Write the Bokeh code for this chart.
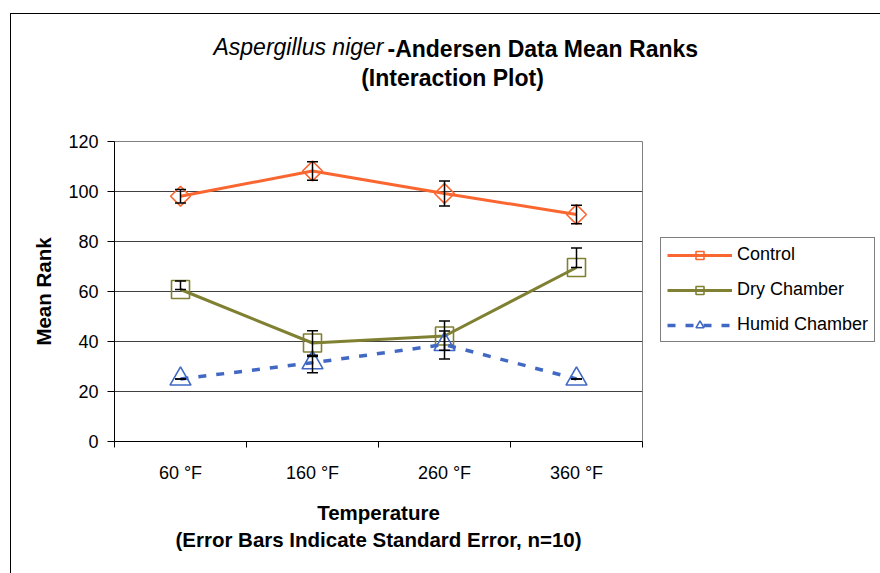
import math
from bokeh.plotting import figure
from bokeh.models import (ColumnDataSource, FixedTicker, Legend, LegendItem, Whisker,
                          TeeHead, Label, Range1d, InlineStyleSheet)
from bokeh.embed import file_html
from bokeh.resources import INLINE

# ---------------- data ----------------
categories = ["60 °F", "160 °F", "260 °F", "360 °F"]
y_ticks = [0, 20, 40, 60, 80, 100, 120]

control_mean = [98.1, 108.2, 99.2, 90.8]
control_err_plus = [2.7, 3.7, 5.0, 3.7]
control_err_minus = [2.7, 3.7, 5.0, 3.7]

dry_mean = [60.8, 39.4, 42.2, 69.6]
dry_err_plus = [3.4, 4.9, 6.0, 7.8]
dry_err_minus = [0.0, 4.9, 5.7, 0.0]

humid_mean = [25.0, 31.5, 38.8, 25.0]
humid_err_plus = [0.0, 2.5, 5.4, 0.0]
humid_err_minus = [0.0, 4.0, 5.8, 0.0]

series_names = ["Control", "Dry Chamber", "Humid Chamber"]

# ---------------- style ----------------
FONT = "Liberation Sans"
ORANGE = "#FA6630"
OLIVE = "#808033"
BLUE = "#4169C4"

xs = [i + 0.5 for i in range(len(categories))]

p = figure(frame_width=528, frame_height=300, output_backend="svg", toolbar_location=None,
           x_range=Range1d(0, len(categories)), y_range=Range1d(0, 120),
           min_border_left=114, min_border_right=238, min_border_top=141,
           min_border_bottom=132)
p.background_fill_color = "white"
p.border_fill_color = "white"
p.outline_line_color = "#808080"
p.outline_line_width = 1

# outer chart-area frame (left and top edges visible)
p.stylesheets = [InlineStyleSheet(css=""":host::after {
  content: ""; position: absolute; left: 10px; top: 13px; right: 0px; bottom: 0px;
  border-left: 1.5px solid black; border-top: 1.5px solid black; pointer-events: none;
}""")]

# axes
p.xaxis.ticker = FixedTicker(ticks=xs, minor_ticks=list(range(len(categories) + 1)))
p.xaxis.major_label_overrides = {x: c for x, c in zip(xs, categories)}
p.xaxis.major_tick_out = 0
p.xaxis.major_tick_in = 0
p.xaxis.minor_tick_out = 6
p.xaxis.minor_tick_in = 0
p.xaxis.major_label_standoff = 15
p.xaxis.axis_label = "Temperature\n(Error Bars Indicate Standard Error, n=10)"
p.xaxis.axis_label_standoff = 15
p.xaxis.axis_label_text_line_height = 1.2

p.yaxis.ticker = FixedTicker(ticks=y_ticks)
p.yaxis.major_tick_out = 7
p.yaxis.major_tick_in = 0
p.yaxis.minor_tick_out = 0
p.yaxis.minor_tick_in = 0
p.yaxis.major_label_standoff = 9
p.yaxis.axis_label = "Mean Rank"
p.yaxis.axis_label_standoff = 10

for ax in (p.xaxis[0], p.yaxis[0]):
    ax.axis_line_color = "black"
    ax.major_tick_line_color = "black"
    ax.minor_tick_line_color = "black"
    ax.major_label_text_font = FONT
    ax.major_label_text_font_size = "18px"
    ax.major_label_text_color = "black"
    ax.axis_label_text_font = FONT
    ax.axis_label_text_font_size = "20.5px"
    ax.axis_label_text_font_style = "bold"
    ax.axis_label_text_color = "black"

p.xgrid.visible = False
p.ygrid.ticker = FixedTicker(ticks=y_ticks)
p.ygrid.grid_line_color = "#404040"
p.ygrid.grid_line_width = 1

# series
specs = [
    (control_mean, control_err_plus, control_err_minus, ORANGE, None, 3, "square", 14, math.pi / 4),
    (dry_mean, dry_err_plus, dry_err_minus, OLIVE, None, 3, "square", 18, 0),
    (humid_mean, humid_err_plus, humid_err_minus, BLUE, "8 10", 3.5, "triangle", 21, 0),
]
items = []
for name, (mean, ep, em, color, dash, lw, marker, msize, ang) in zip(series_names, specs):
    src = ColumnDataSource(dict(x=xs, y=mean,
                                upper=[m + e for m, e in zip(mean, ep)],
                                lower=[m - e for m, e in zip(mean, em)]))
    kw = dict(line_dash=dash) if dash else {}
    rl = p.line("x", "y", source=src, line_color=color, line_width=lw, **kw)
    rs = p.scatter("x", "y", source=src, marker=marker, size=msize, angle=ang,
                   fill_color=None, line_color=color, line_width=1.6)
    w = Whisker(base="x", upper="upper", lower="lower", source=src,
                line_color="black", line_width=1.5, level="annotation",
                upper_head=TeeHead(size=11, line_color="black", line_width=1.5),
                lower_head=TeeHead(size=11, line_color="black", line_width=1.5))
    p.add_layout(w)
    items.append(LegendItem(label=name, renderers=[rl, rs]))

legend = Legend(items=items, location=(18, 99), margin=0, padding=6, spacing=14,
                glyph_width=65, glyph_height=20, label_height=20, label_standoff=5,
                label_text_font=FONT, label_text_font_size="18px",
                label_text_color="black",
                border_line_color="black", border_line_width=1,
                background_fill_color="white")
p.add_layout(legend, "right")

# titles, in the panel above the frame
t1a = Label(x=269, y=95, x_units="screen", y_units="screen", text="Aspergillus niger",
            text_font=FONT, text_font_size="23px", text_font_style="italic",
            text_align="right", text_baseline="middle", text_color="black")
t1b = Label(x=273, y=67, x_units="screen", y_units="screen",
            text="-Andersen Data Mean Ranks",
            text_font=FONT, text_font_size="23px", text_font_style="bold",
            text_align="left", text_baseline="middle", text_color="black")
t2 = Label(x=338, y=12, x_units="screen", y_units="screen", text="(Interaction Plot)",
           text_font=FONT, text_font_size="23px", text_font_style="bold",
           text_align="center", text_baseline="middle", text_color="black")
for t in (t1a, t1b, t2):
    p.add_layout(t, "above")

open("out.html", "w").write(file_html(p, INLINE))
